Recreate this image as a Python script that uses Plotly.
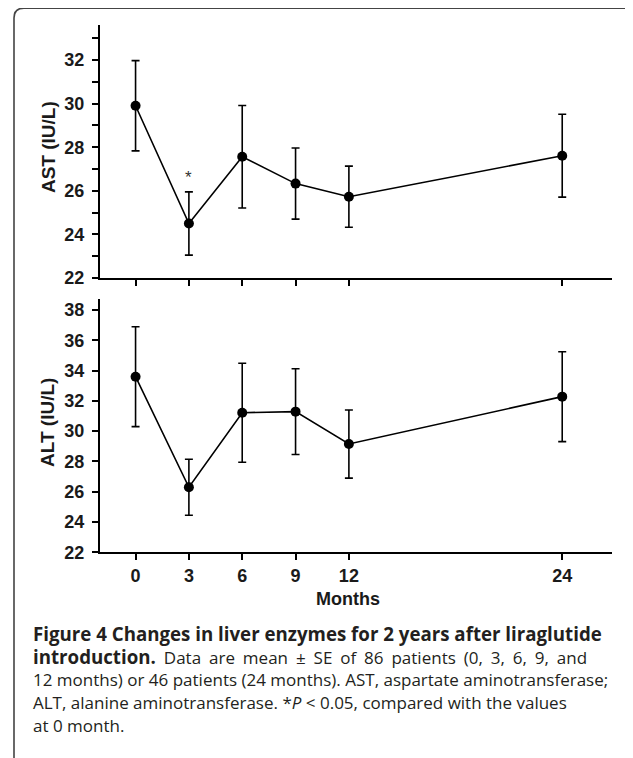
import plotly.graph_objects as go

months = [0, 3, 6, 9, 12, 24]
ast_mean = [29.9, 24.5, 27.56, 26.33, 25.73, 27.61]
ast_se = [2.07, 1.45, 2.35, 1.63, 1.40, 1.90]
alt_mean = [33.6, 26.29, 31.22, 31.29, 29.15, 32.28]
alt_se = [3.30, 1.85, 3.27, 2.83, 2.25, 2.97]
ast_ticks = [22, 24, 26, 28, 30, 32]
alt_ticks = [22, 24, 26, 28, 30, 32, 34, 36, 38]

OFF = 8      # page body margin
SY = 0.987   # observed vertical scale of the snapshot
W = 633 - 2 * OFF
H = round(758 / SY) - 2 * OFF
def px(x): return (x - OFF) / W
def py(y): return 1 - (y / SY - OFF) / H

fig = go.Figure()
for yref, mean, se in [("y", ast_mean, ast_se), ("y2", alt_mean, alt_se)]:
    fig.add_trace(go.Scatter(
        x=months, y=mean, xaxis="x" if yref == "y" else "x2", yaxis=yref,
        mode="lines+markers",
        line=dict(color="black", width=1.6),
        marker=dict(color="black", size=10),
        error_y=dict(type="data", array=se, visible=True, color="black",
                     thickness=1.6, width=4),
        showlegend=False, hoverinfo="skip"))

tickfont = dict(family="Liberation Sans, Arial", size=18, color="#1a1a1a", weight="bold")
common_x = dict(range=[-2, 26.8], tickvals=months, ticks="outside", ticklen=6,
                tickwidth=1.6, tickcolor="black", showline=True, linecolor="black",
                linewidth=2, showgrid=False, zeroline=False, tickfont=tickfont)
common_y = dict(ticks="outside", ticklen=6, tickwidth=1.6, tickcolor="black",
                showline=True, linecolor="black", linewidth=2, showgrid=False,
                zeroline=False, tickfont=tickfont, ticklabelstandoff=4)

fig.update_layout(
    width=W, height=H, autosize=False,
    margin=dict(l=0, r=0, t=0, b=0),
    plot_bgcolor="white", paper_bgcolor="white",
    xaxis=dict(domain=[px(100), px(612)], anchor="y", showticklabels=False, **common_x),
    yaxis=dict(domain=[py(278), py(25)], range=[22, 33.6], tickvals=ast_ticks,
               anchor="x",
               minor=dict(dtick=1, tick0=22, ticks="outside", ticklen=6,
                          tickwidth=1.6, tickcolor="black"),
               **common_y),
    xaxis2=dict(domain=[px(100), px(612)], anchor="y2", **common_x),
    yaxis2=dict(domain=[py(552.3), py(299)], range=[22, 38.73], tickvals=alt_ticks,
                anchor="x2", **common_y),
)

title_font = dict(family="Liberation Sans, Arial", size=19, color="#1a1a1a", weight="bold")
fig.add_annotation(text="AST (IU/L)", x=px(48), y=py(147), xref="paper", yref="paper",
                   xanchor="center", yanchor="middle",
                   textangle=-90, showarrow=False, font=title_font)
fig.add_annotation(text="ALT (IU/L)", x=px(48), y=py(423), xref="paper", yref="paper",
                   xanchor="center", yanchor="middle",
                   textangle=-90, showarrow=False, font=title_font)
fig.add_annotation(text="Months", x=px(348), y=py(599), xref="paper", yref="paper",
                   xanchor="center", yanchor="middle",
                   showarrow=False, font=dict(family="Liberation Sans, Arial", size=18,
                                              color="#1a1a1a", weight="bold"))
fig.add_annotation(text="*", x=3, y=26.6, xref="x", yref="y", showarrow=False,
                   font=dict(family="Liberation Sans, Arial", size=17, color="#333333"))

B = '<span style="font-size:18.7px"><b>{}</b></span>'
caption = [
    B.format("Figure 4 Changes in liver enzymes for 2 years after liraglutide"),
    B.format("introduction.") + '<span style="word-spacing:3.5px"> Data are mean ± SE of 86 patients (0, 3, 6, 9, and</span>',
    "12 months) or 46 patients (24 months). AST, aspartate aminotransferase;",
    "ALT, alanine aminotransferase. *<i>P</i> &lt; 0.05, compared with the values",
    "at 0 month.",
]
cap_y = [634, 657, 680, 703, 726]
for t, yy in zip(caption, cap_y):
    fig.add_annotation(text=t, x=px(31), y=py(yy), xref="paper", yref="paper",
                       xanchor="left", yanchor="middle", showarrow=False,
                       font=dict(family="Open Sans", size=17, color="#231f20"))

fig.add_shape(type="path", xref="paper", yref="paper",
              path=f"M {px(631)},{py(13)} Q {px(631)},{py(8)} {px(625)},{py(8)} "
                   f"L {px(24)},{py(8)} Q {px(14)},{py(8)} {px(14)},{py(18)} "
                   f"L {px(14)},{py(758)}",
              line=dict(color="#444", width=1.6))

fig.write_html("out.html")
